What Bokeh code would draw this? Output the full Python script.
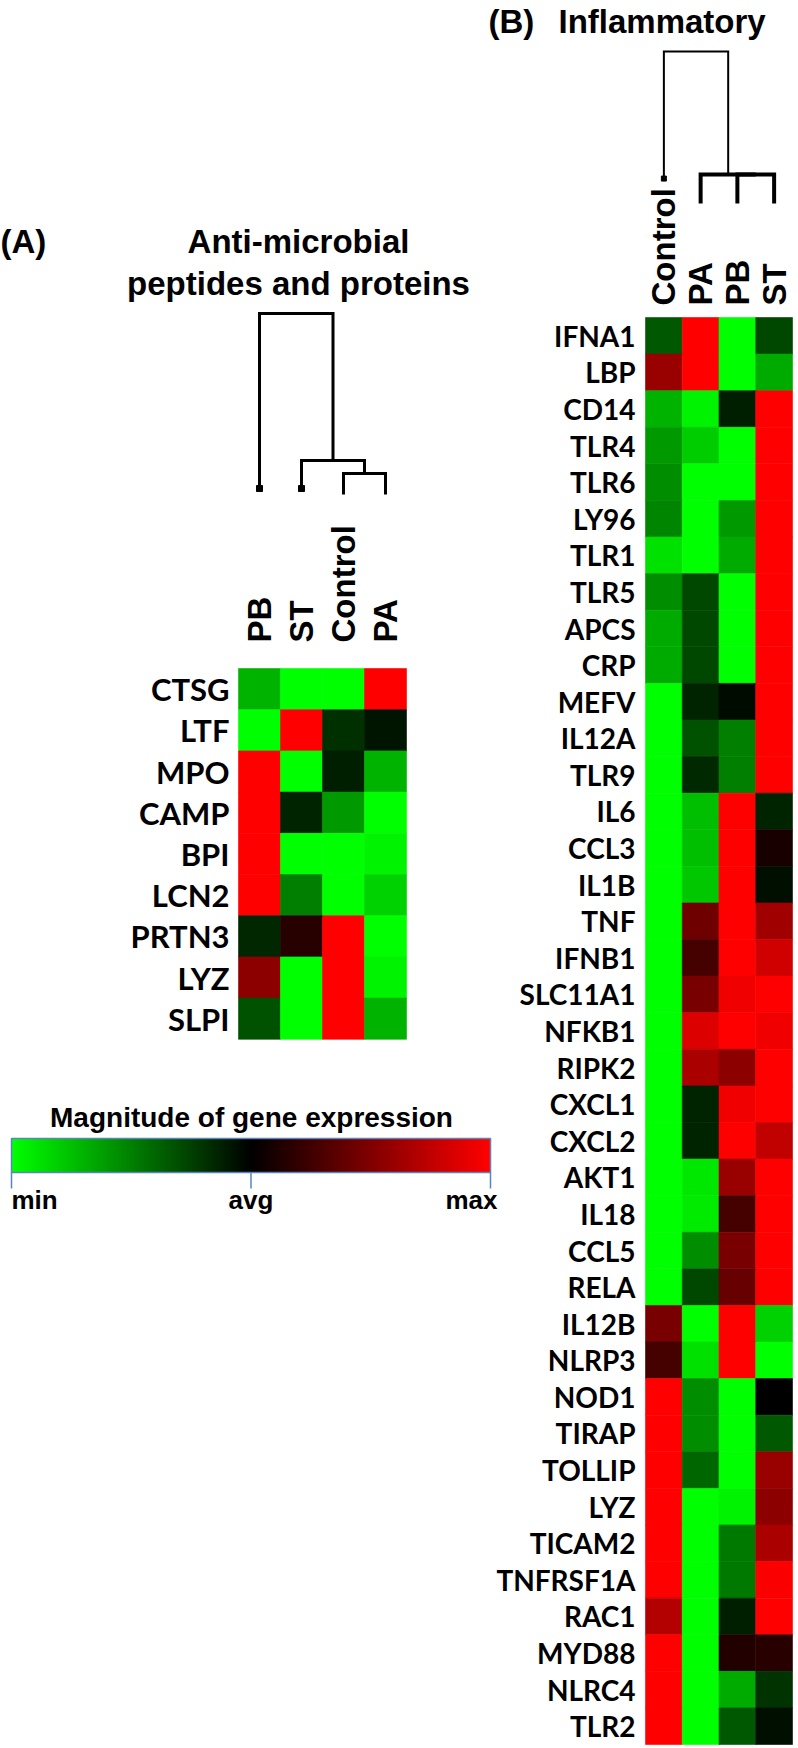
import numpy as np
from bokeh.plotting import figure
from bokeh.models import Range1d, LinearColorMapper, ColumnDataSource
from bokeh.transform import transform
from bokeh.core.properties import value
from bokeh.embed import file_html
from bokeh.resources import INLINE

# ---------------- data ----------------
amp_genes = ["CTSG", "LTF", "MPO", "CAMP", "BPI", "LCN2", "PRTN3", "LYZ", "SLPI"]
amp_groups = ["PB", "ST", "Control", "PA"]
# relative expression: -1 = min (green), 0 = avg (black), 1 = max (red)
amp_expr = [
    [-0.70, -1.00, -1.00, 1.00],
    [-1.00, 1.00, -0.18, -0.08],
    [1.00, -1.00, -0.12, -0.70],
    [1.00, -0.14, -0.60, -1.00],
    [1.00, -1.00, -1.00, -0.95],
    [1.00, -0.50, -1.00, -0.82],
    [-0.15, 0.15, 1.00, -1.00],
    [0.55, -1.00, 1.00, -0.95],
    [-0.32, -1.00, 1.00, -0.70],
]

inf_genes = ["IFNA1", "LBP", "CD14", "TLR4", "TLR6", "LY96", "TLR1", "TLR5", "APCS",
             "CRP", "MEFV", "IL12A", "TLR9", "IL6", "CCL3", "IL1B", "TNF", "IFNB1",
             "SLC11A1", "NFKB1", "RIPK2", "CXCL1", "CXCL2", "AKT1", "IL18", "CCL5",
             "RELA", "IL12B", "NLRP3", "NOD1", "TIRAP", "TOLLIP", "LYZ", "TICAM2",
             "TNFRSF1A", "RAC1", "MYD88", "NLRC4", "TLR2"]
inf_groups = ["Control", "PA", "PB", "ST"]
inf_expr = [
    [-0.35, 1.00, -1.00, -0.28],
    [0.60, 1.00, -1.00, -0.67],
    [-0.70, -0.95, -0.12, 1.00],
    [-0.60, -0.80, -1.00, 1.00],
    [-0.55, -1.00, -1.00, 1.00],
    [-0.52, -1.00, -0.60, 1.00],
    [-0.88, -1.00, -0.67, 1.00],
    [-0.55, -0.28, -1.00, 1.00],
    [-0.67, -0.28, -1.00, 1.00],
    [-0.67, -0.28, -1.00, 1.00],
    [-1.00, -0.14, -0.04, 1.00],
    [-1.00, -0.32, -0.50, 1.00],
    [-1.00, -0.16, -0.50, 1.00],
    [-1.00, -0.75, 1.00, -0.14],
    [-1.00, -0.75, 1.00, 0.10],
    [-1.00, -0.78, 1.00, -0.06],
    [-1.00, 0.43, 1.00, 0.63],
    [-1.00, 0.27, 1.00, 0.82],
    [-1.00, 0.47, 0.94, 1.00],
    [-1.00, 0.86, 1.00, 0.94],
    [-1.00, 0.67, 0.55, 1.00],
    [-1.00, -0.14, 0.94, 1.00],
    [-1.00, -0.14, 1.00, 0.75],
    [-1.00, -0.90, 0.60, 1.00],
    [-1.00, -0.92, 0.27, 1.00],
    [-1.00, -0.55, 0.47, 1.00],
    [-1.00, -0.28, 0.40, 1.00],
    [0.47, -1.00, 1.00, -0.82],
    [0.27, -0.88, 1.00, -1.00],
    [1.00, -0.55, -1.00, 0.00],
    [1.00, -0.55, -1.00, -0.35],
    [1.00, -0.40, -1.00, 0.60],
    [1.00, -1.00, -0.95, 0.55],
    [1.00, -1.00, -0.47, 0.67],
    [1.00, -1.00, -0.47, 0.98],
    [0.70, -1.00, -0.12, 1.00],
    [1.00, -1.00, 0.14, 0.16],
    [1.00, -1.00, -0.67, -0.20],
    [1.00, -1.00, -0.35, -0.06],
]

# dendrograms: (child a, child b, merge height relative to root); new nodes numbered n, n+1, ...
amp_dend_merges = [(2, 3, 0.116), (1, 4, 0.188), (0, 5, 1.0)]
amp_dend_leaf_h = [0.033, 0.033, 0.0, 0.0]
inf_dend_merges = [(2, 3, 0.19), (1, 4, 0.19), (0, 5, 1.0)]
inf_dend_leaf_h = [0.164, 0.0, 0.0, 0.0]

scale_ticks = [-1, 0, 1]
scale_labels = ["min", "avg", "max"]

# ---------------- layout helpers ----------------
W, H = 796, 1745          # canvas in page pixels (origin at page top-left)


def xr(v0, p0, v1, p1):
    k = (v1 - v0) / (p1 - p0)
    s = v0 - p0 * k
    return Range1d(start=s, end=s + W * k)


def yr(v0, p0, v1, p1):
    q0, q1 = H - p0, H - p1
    k = (v1 - v0) / (q1 - q0)
    s = v0 - q0 * k
    return Range1d(start=s, end=s + H * k)


# palette green -> black -> red
palette = []
for k in range(256):
    t = -1 + 2 * k / 255
    palette.append("#%02x%02x00" % (round(max(t, 0) * 255), round(max(-t, 0) * 255)))
mapper = LinearColorMapper(palette=palette, low=-1, high=1)

A_TOP, A_ROW = 668, 41.2
B_TOP, B_ROW = 317, 36.59
p = figure(width=W, height=H, output_backend="svg", toolbar_location=None, tools="",
           min_border=0, x_axis_location=None, y_axis_location=None,
           x_range=xr(0, 238, 4, 406),
           y_range=yr(0, A_TOP, len(amp_genes), A_TOP + A_ROW * len(amp_genes)))
p.grid.visible = False
p.outline_line_color = None
p.background_fill_color = "white"
p.border_fill_color = "white"

p.extra_x_ranges = {
    "bx": xr(0, 645, 4, 792),
    "px": xr(0, 0, W, W),
    "cbx": xr(-1, 11, 1, 490),
}
p.extra_y_ranges = {
    "by": yr(0, B_TOP, len(inf_genes), B_TOP + B_ROW * len(inf_genes)),
    "py": yr(0, 0, H, H),
    "ady": yr(0, 494, 1, 313),
    "bdy": yr(0, 203, 1, 51),
    "cby": yr(0, 1172, 1, 1138),
}

TITLE_FONT = value("Liberation Sans")
LABEL_FONT = value("Lato")


def heat_source(expr):
    xs, ys, vs = [], [], []
    for j, row in enumerate(expr):
        for i, v in enumerate(row):
            xs.append(i + 0.5)
            ys.append(j + 0.5)
            vs.append(v)
    return ColumnDataSource(dict(x=xs, y=ys, v=vs))


def dendro(merges, leaf_h):
    n = len(leaf_h)
    pos = [i + 0.5 for i in range(n)]
    hgt = list(leaf_h)
    xs, ys = [], []
    for a, b, h in merges:
        xs.append([pos[a], pos[a], pos[b], pos[b]])
        ys.append([hgt[a], h, h, hgt[b]])
        pos.append((pos[a] + pos[b]) / 2)
        hgt.append(h)
    return xs, ys


def page_text(x, y, txt, size, align, font=TITLE_FONT):
    p.text(x=x, y=y, text=txt, x_range_name="px", y_range_name="py", text_font=font,
           text_font_size=size, text_font_style="bold", text_align=align,
           text_baseline="middle", text_color="black")


# ---------------- panel A ----------------
p.rect(x="x", y="y", width=1, height=1, source=heat_source(amp_expr),
       fill_color=transform("v", mapper), line_color=transform("v", mapper), line_width=0.6)

p.text(x=[229] * len(amp_genes), y=[j + 0.5 for j in range(len(amp_genes))], text=amp_genes,
       x_range_name="px", text_font=LABEL_FONT, text_font_size="31px", text_font_style="bold",
       text_align="right", text_baseline="middle", text_color="black")

p.text(x=[i + 0.5 for i in range(len(amp_groups))], y=[642] * len(amp_groups), text=amp_groups,
       y_range_name="py", angle=np.pi / 2, text_font=TITLE_FONT, text_font_size="33px",
       text_font_style="bold", text_align="left", text_baseline="middle", text_color="black")

axs, ays = dendro(amp_dend_merges, amp_dend_leaf_h)
p.multi_line(xs=axs, ys=ays, y_range_name="ady", line_color="black", line_width=3,
             line_join="miter", line_cap="butt")
sing = [i for i, h in enumerate(amp_dend_leaf_h) if h > 0]
p.scatter(x=[i + 0.5 for i in sing], y=[amp_dend_leaf_h[i] for i in sing], y_range_name="ady",
          marker="square", size=6, color="black")

page_text([0], [241], ["(A)"], "33px", "left")
page_text([298, 298], [241, 283], ["Anti-microbial", "peptides and proteins"], "33px", "center")

# colour scale
p.image(image=[np.linspace(-1, 1, 512).reshape(1, -1)], x=-1, y=0, dw=2, dh=1,
        color_mapper=mapper, x_range_name="cbx", y_range_name="cby")
p.quad(left=-1, right=1, top=1, bottom=0, fill_color=None, line_color="#5a84bf",
       line_width=1.5, x_range_name="cbx", y_range_name="cby")
p.segment(x0=scale_ticks, x1=scale_ticks, y0=1172, y1=1188, line_color="#5a84bf", line_width=1.5,
          x_range_name="cbx", y_range_name="py")
page_text([251], [1117], ["Magnitude of gene expression"], "28px", "center")
for t, lab, al, off in zip(scale_ticks, scale_labels, ["left", "center", "right"], [0, 0, 7]):
    p.text(x=[t], y=[1199], text=[lab], x_offset=off, x_range_name="cbx", y_range_name="py",
           text_font=TITLE_FONT, text_font_size="26px", text_font_style="bold", text_align=al,
           text_baseline="middle")

# ---------------- panel B ----------------
p.rect(x="x", y="y", width=1, height=1, source=heat_source(inf_expr),
       fill_color=transform("v", mapper), line_color=transform("v", mapper), line_width=0.6,
       x_range_name="bx", y_range_name="by")

p.text(x=[635] * len(inf_genes), y=[j + 0.5 for j in range(len(inf_genes))], text=inf_genes,
       x_range_name="px", y_range_name="by", text_font=LABEL_FONT, text_font_size="28px",
       text_font_style="bold", text_align="right", text_baseline="middle", text_color="black")

p.text(x=[i + 0.5 for i in range(len(inf_groups))], y=[305] * len(inf_groups), text=inf_groups,
       x_range_name="bx", y_range_name="py", angle=np.pi / 2, text_font=TITLE_FONT,
       text_font_size="33px", text_font_style="bold", text_align="left", text_baseline="middle")

bxs, bys = dendro(inf_dend_merges, inf_dend_leaf_h)
p.multi_line(xs="xs", ys="ys", line_width="w",
             source=ColumnDataSource(dict(xs=bxs, ys=bys, w=[4, 4, 2])),
             x_range_name="bx", y_range_name="bdy", line_color="black",
             line_join="miter", line_cap="butt")
sing_b = [i for i, h in enumerate(inf_dend_leaf_h) if h > 0]
p.scatter(x=[i + 0.5 for i in sing_b], y=[inf_dend_leaf_h[i] for i in sing_b],
          x_range_name="bx", y_range_name="bdy", marker="square", size=5, color="black")

page_text([488, 558], [21, 21], ["(B)", "Inflammatory"], "33px", "left")

open("out.html", "w").write(file_html(p, INLINE))
